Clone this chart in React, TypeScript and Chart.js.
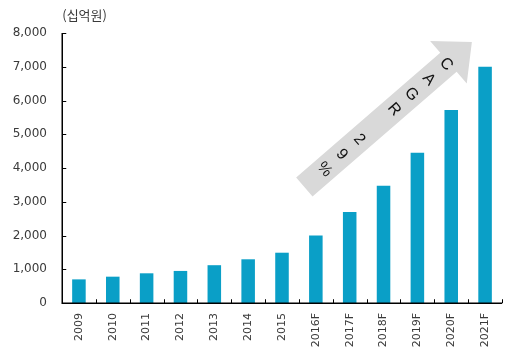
import { useEffect, useRef } from "react";
import { Chart, registerables } from "chart.js";

Chart.register(...registerables);

const categories = ["2009", "2010", "2011", "2012", "2013", "2014", "2015", "2016F", "2017F", "2018F", "2019F", "2020F", "2021F"];
const values = [700, 780, 880, 950, 1120, 1295, 1490, 2000, 2700, 3475, 4450, 5720, 7000];
const yTicks = [0, 1000, 2000, 3000, 4000, 5000, 6000, 7000, 8000];
const unitLabel = "(십억원)";
const arrowText = "CAGR 29%";
// arrow anchored in data space: category index / value
const arrowFrom = { x: 6.66, y: 3437 };
const arrowTo = { x: 11.61, y: 7733 };

const BAR_COLOR = "#0A9FC7";
const ARROW_COLOR = "#D9D9D9";
const TEXT_COLOR = "#3a3a3a";

const decor = {
  id: "decor",
  beforeDatasetsDraw(chart: any) {
    const { ctx, scales } = chart;
    const x = scales.x;
    const y = scales.y;
    ctx.save();
    const tx = x.getPixelForValue(arrowFrom.x);
    const ty = y.getPixelForValue(arrowFrom.y);
    const hx = x.getPixelForValue(arrowTo.x);
    const hy = y.getPixelForValue(arrowTo.y);
    const dx = hx - tx;
    const dy = hy - ty;
    const L = Math.hypot(dx, dy);
    const ux = dx / L;
    const uy = dy / L;
    const nx = -uy;
    const ny = ux;
    const bw = 12.5;
    const hw = 28;
    const hl = 31;
    const neckX = hx - ux * hl;
    const neckY = hy - uy * hl;
    ctx.fillStyle = ARROW_COLOR;
    ctx.beginPath();
    ctx.moveTo(tx + nx * bw, ty + ny * bw);
    ctx.lineTo(neckX + nx * bw, neckY + ny * bw);
    ctx.lineTo(neckX + nx * hw, neckY + ny * hw);
    ctx.lineTo(hx, hy);
    ctx.lineTo(neckX - nx * hw, neckY - ny * hw);
    ctx.lineTo(neckX - nx * bw, neckY - ny * bw);
    ctx.lineTo(tx - nx * bw, ty - ny * bw);
    ctx.closePath();
    ctx.fill();
    const rot = Math.atan2(uy, ux) + Math.PI / 2;
    ctx.fillStyle = "#111";
    ctx.font = "16px 'Liberation Sans', Arial, sans-serif";
    ctx.textAlign = "center";
    ctx.textBaseline = "middle";
    arrowText.split("").forEach((c, i) => {
      if (c === " ") return;
      const d = 34 + i * 23;
      ctx.save();
      ctx.translate(hx - ux * d, hy - uy * d);
      ctx.rotate(rot);
      ctx.fillText(c, 0, 0);
      ctx.restore();
    });
    ctx.restore();
  },
  afterDraw(chart: any) {
    const { ctx, scales, chartArea } = chart;
    const x = scales.x;
    const y = scales.y;
    ctx.save();
    ctx.strokeStyle = "#000";
    ctx.lineWidth = 1.5;
    const ax = Math.round(chartArea.left) + 0.25;
    const ay = Math.round(y.getPixelForValue(0)) + 0.25;
    ctx.beginPath();
    ctx.moveTo(ax, y.getPixelForValue(yTicks[yTicks.length - 1]));
    ctx.lineTo(ax, ay);
    ctx.lineTo(chartArea.right, ay);
    ctx.stroke();
    ctx.lineWidth = 1;
    ctx.beginPath();
    yTicks.forEach((v) => {
      const py = Math.round(y.getPixelForValue(v)) + 0.5;
      ctx.moveTo(ax, py);
      ctx.lineTo(ax + 4, py);
    });
    for (let i = 1; i <= categories.length; i++) {
      const px = Math.round(x.getPixelForValue(i - 0.5)) + 0.5;
      ctx.moveTo(px, ay);
      ctx.lineTo(px, ay - 4);
    }
    ctx.stroke();
    ctx.fillStyle = TEXT_COLOR;
    ctx.font = "13px 'Noto Sans CJK KR', sans-serif";
    ctx.textAlign = "left";
    ctx.textBaseline = "middle";
    ctx.fillText(unitLabel, ax, 15);
    ctx.restore();
  },
};

export default function App() {
  const ref = useRef<HTMLCanvasElement | null>(null);
  useEffect(() => {
    document.body.style.margin = "0";
    const canvas = ref.current;
    if (!canvas) return;
    const chart = new Chart(canvas, {
      type: "bar",
      data: {
        labels: categories,
        datasets: [
          {
            data: values,
            backgroundColor: BAR_COLOR,
            barPercentage: 0.4,
            categoryPercentage: 1,
          },
        ],
      },
      options: {
        animation: false,
        responsive: false,
        devicePixelRatio: 1,
        layout: { padding: { left: 8, top: 33, right: 10, bottom: 0 } },
        plugins: { legend: { display: false }, tooltip: { enabled: false } },
        scales: {
          x: {
            grid: { display: false, drawTicks: false },
            border: { display: false },
            afterFit: (s: any) => {
              s.height = 48;
            },
            ticks: {
              minRotation: 90,
              maxRotation: 90,
              padding: 10,
              color: TEXT_COLOR,
              font: { family: "'DejaVu Sans', sans-serif", size: 11 },
            },
          },
          y: {
            min: 0,
            max: 8000,
            grid: { display: false, drawTicks: false },
            border: { display: false },
            afterFit: (s: any) => {
              s.width = 54;
            },
            afterBuildTicks: (s: any) => {
              s.ticks = yTicks.map((v) => ({ value: v }));
            },
            ticks: {
              padding: 15,
              color: TEXT_COLOR,
              font: { family: "'DejaVu Sans', sans-serif", size: 12 },
              callback: (v: any) => Number(v).toLocaleString("en-US"),
            },
          },
        },
      },
      plugins: [decor],
    });
    return () => chart.destroy();
  }, []);
  return <canvas ref={ref} width={512} height={351} style={{ display: "block" }} />;
}
